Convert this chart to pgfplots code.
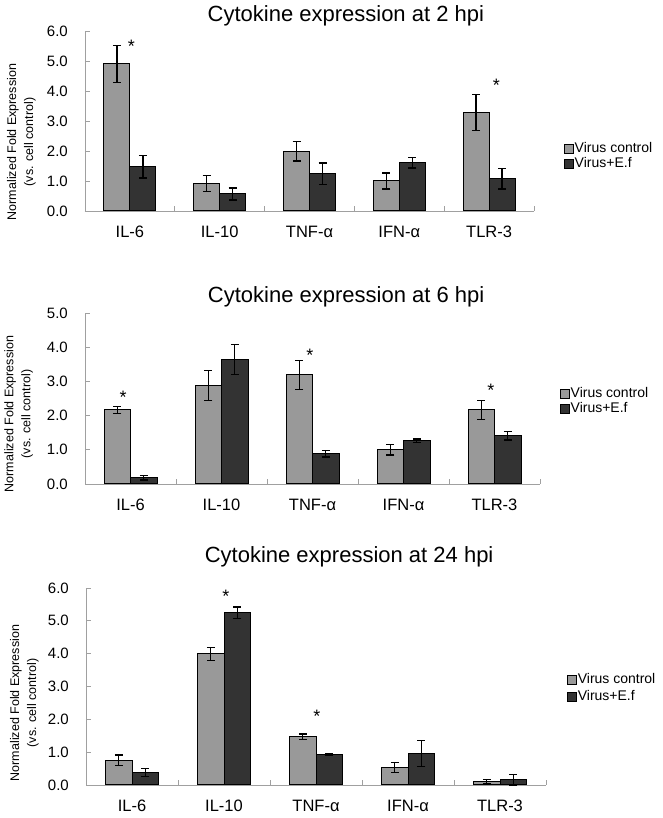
\documentclass[border=0pt]{standalone}
\usepackage{fontspec}
\setmainfont{Liberation Sans}
\usepackage{pgfplots}
\pgfplotsset{compat=1.18}

\definecolor{vctrl}{RGB}{153,153,153}
\definecolor{vef}{RGB}{51,51,51}
\definecolor{axgray}{RGB}{160,160,160}

\tikzset{sig/.style={font=\fontsize{18}{18}\selectfont, anchor=base, yshift=-10pt}}

\pgfplotsset{
  cyto/.style={
    scale only axis,
    ybar=0pt,
    xmin=-0.5, xmax=4.5,
    ymin=0,
    ytick distance=1,
    xtick={-0.5,0.5,...,4.5},
    x tick label as interval,
    xticklabels={IL-6,IL-10,TNF-α,IFN-α,TLR-3},
    axis x line*=bottom,
    axis y line*=left,
    axis line style={draw=axgray, line width=0.9pt, -},
    tick style={draw=axgray, line width=0.9pt},
    tick align=inside,
    major tick length=5pt,
    clip=false,
    yticklabel style={
      /pgf/number format/fixed,
      /pgf/number format/fixed zerofill,
      /pgf/number format/precision=1,
      /pgf/number format/assume math mode=true,
      font=\fontsize{15}{15}\selectfont,
      inner sep=0pt, xshift=-17pt},
    xticklabel style={font=\fontsize{16.5}{16.5}\selectfont,
      inner sep=0pt, anchor=base, yshift=-27pt},
    title style={anchor=base, font=\fontsize{22}{26}\selectfont},
    ylabel={Normalized Fold Expression\\(vs. cell control)},
    ylabel style={anchor=center, align=center,
      font=\fontsize{12.5}{17}\selectfont},
    legend cell align=left,
    legend image code/.code={
      \draw[#1, draw=black, line width=0.9pt] (0pt,-4.5pt) rectangle (9pt,4.5pt);},
    legend style={anchor=north west, draw=none, fill=none, inner sep=0pt,
      font=\fontsize{14}{15}\selectfont,
      nodes={inner sep=1pt, text height=10pt, text depth=3pt}},
    error bars/error bar style={line width=1.3pt, black},
    error bars/error mark options={rotate=90, mark size=4pt, line width=1.3pt, black},
  },
  vc/.style={fill=vctrl, draw=black, line width=1pt,
    error bars/.cd, y dir=both, y explicit},
  ve/.style={fill=vef, draw=black, line width=1pt,
    error bars/.cd, y dir=both, y explicit},
}

\begin{document}
\begin{tikzpicture}
\path[use as bounding box] (0,0) rectangle (662pt,818pt);

% 2 hpi
\begin{axis}[cyto,
    at={(85pt,607pt)}, anchor=south west,
    width=449pt, height=180pt,
    ymax=6, bar width=26pt,
    title={Cytokine expression at 2 hpi},
    title style={at={(axis description cs:0.581,1)}, yshift=3pt},
    ylabel style={at={(axis description cs:-0.1414,0.383)}},
    legend style={at={(axis description cs:1.066,0.389)}},
]
\addplot[vc] coordinates {
    (0,4.90) +- (0,0.62)
    (1,0.92) +- (0,0.27)
    (2,1.99) +- (0,0.32)
    (3,1.00) +- (0,0.27)
    (4,3.29) +- (0,0.60)
};
\addplot[ve] coordinates {
    (0,1.47) +- (0,0.37)
    (1,0.57) +- (0,0.20)
    (2,1.24) +- (0,0.36)
    (3,1.61) +- (0,0.18)
    (4,1.07) +- (0,0.34)
};
\legend{Virus control, Virus+E.f}
\node[sig] at (axis cs:0.017,5.6) {*};
\node[sig] at (axis cs:4.08,4.3) {*};
\end{axis}

% 6 hpi
\begin{axis}[cyto,
    at={(85pt,334pt)}, anchor=south west,
    width=455pt, height=171pt,
    ymax=5, bar width=26.5pt,
    title={Cytokine expression at 6 hpi},
    title style={at={(axis description cs:0.574,1)}, yshift=4pt},
    ylabel style={at={(axis description cs:-0.146,0.409)}},
    legend style={at={(axis description cs:1.043,0.573)}},
]
\addplot[vc] coordinates {
    (0,2.17) +- (0,0.10)
    (1,2.88) +- (0,0.44)
    (2,3.19) +- (0,0.43)
    (3,1.00) +- (0,0.15)
    (4,2.17) +- (0,0.28)
};
\addplot[ve] coordinates {
    (0,0.18) +- (0,0.06)
    (1,3.64) +- (0,0.43)
    (2,0.88) +- (0,0.09)
    (3,1.27) +- (0,0.05)
    (4,1.41) +- (0,0.12)
};
\legend{Virus control, Virus+E.f}
\node[sig] at (axis cs:-0.08,2.66) {*};
\node[sig] at (axis cs:1.97,3.88) {*};
\node[sig] at (axis cs:3.96,2.85) {*};
\end{axis}

% 24 hpi
\begin{axis}[cyto,
    at={(86pt,33pt)}, anchor=south west,
    width=460pt, height=197pt,
    ymax=6, bar width=26.5pt,
    title={Cytokine expression at 24 hpi},
    title style={at={(axis description cs:0.572,1)}, yshift=20pt},
    ylabel style={at={(axis description cs:-0.1337,0.416)}},
    legend style={at={(axis description cs:1.045,0.579)},
      nodes={text height=11pt, text depth=4pt}},
]
\addplot[vc] coordinates {
    (0,0.75) +- (0,0.16)
    (1,3.99) +- (0,0.19)
    (2,1.47) +- (0,0.08)
    (3,0.53) +- (0,0.15)
    (4,0.11) +- (0,0.06)
};
\addplot[ve] coordinates {
    (0,0.38) +- (0,0.13)
    (1,5.25) +- (0,0.17)
    (2,0.92) +- (0,0.03)
    (3,0.96) +- (0,0.40)
    (4,0.16) +- (0,0.16)
};
\legend{Virus control, Virus+E.f}
\node[sig] at (axis cs:1.02,5.87) {*};
\node[sig] at (axis cs:2.01,2.2) {*};
\end{axis}
\end{tikzpicture}
\end{document}
